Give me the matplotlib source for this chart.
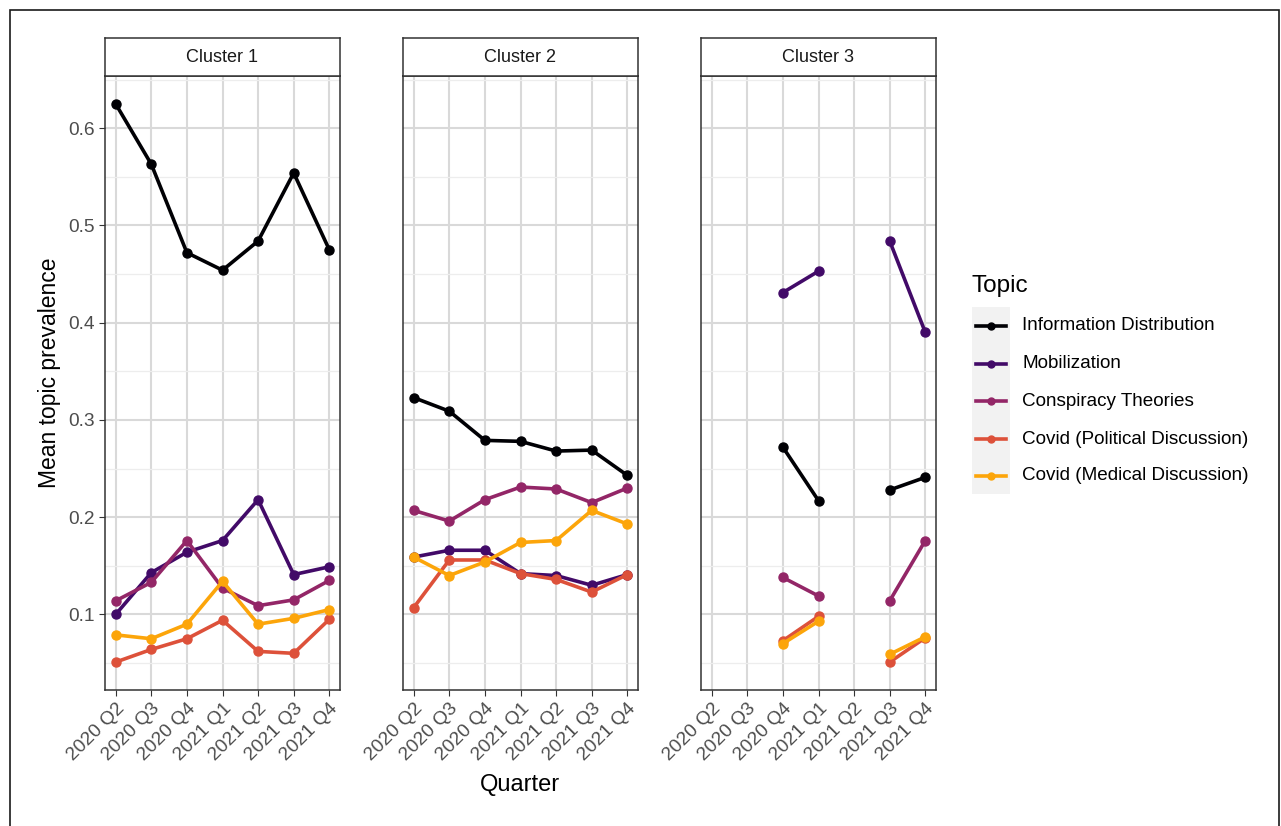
import numpy as np
import matplotlib
matplotlib.use('Agg')
import matplotlib.pyplot as plt
from matplotlib.lines import Line2D
from matplotlib.patches import Rectangle

plt.rcParams['font.family'] = ['Liberation Sans', 'DejaVu Sans']

quarters = ['2020 Q2', '2020 Q3', '2020 Q4', '2021 Q1', '2021 Q2', '2021 Q3', '2021 Q4']
topics = ['Information Distribution', 'Mobilization', 'Conspiracy Theories',
          'Covid (Political Discussion)', 'Covid (Medical Discussion)']
# inferno palette, first five of six
colors = ['#000004', '#420A68', '#932667', '#DD513A', '#FCA50A']
nan = np.nan

cluster1 = {
    'Information Distribution':     [0.625, 0.563, 0.472, 0.454, 0.484, 0.554, 0.475],
    'Mobilization':                 [0.100, 0.143, 0.164, 0.176, 0.218, 0.141, 0.149],
    'Conspiracy Theories':          [0.114, 0.133, 0.176, 0.127, 0.109, 0.115, 0.135],
    'Covid (Political Discussion)': [0.051, 0.064, 0.075, 0.094, 0.062, 0.060, 0.095],
    'Covid (Medical Discussion)':   [0.079, 0.075, 0.090, 0.134, 0.090, 0.096, 0.105],
}
cluster2 = {
    'Information Distribution':     [0.323, 0.309, 0.279, 0.278, 0.268, 0.269, 0.243],
    'Mobilization':                 [0.159, 0.166, 0.166, 0.142, 0.140, 0.130, 0.141],
    'Conspiracy Theories':          [0.207, 0.196, 0.218, 0.231, 0.229, 0.215, 0.230],
    'Covid (Political Discussion)': [0.107, 0.156, 0.156, 0.142, 0.136, 0.123, 0.141],
    'Covid (Medical Discussion)':   [0.159, 0.140, 0.154, 0.174, 0.176, 0.207, 0.193],
}
cluster3 = {
    'Information Distribution':     [nan, nan, 0.272, 0.217, nan, 0.228, 0.241],
    'Mobilization':                 [nan, nan, 0.431, 0.453, nan, 0.484, 0.390],
    'Conspiracy Theories':          [nan, nan, 0.138, 0.119, nan, 0.114, 0.176],
    'Covid (Political Discussion)': [nan, nan, 0.073, 0.098, nan, 0.051, 0.076],
    'Covid (Medical Discussion)':   [nan, nan, 0.070, 0.093, nan, 0.059, 0.077],
}
clusters = [('Cluster 1', cluster1), ('Cluster 2', cluster2), ('Cluster 3', cluster3)]

W, H = 1281, 826
fig = plt.figure(figsize=(W / 100, H / 100), dpi=100)


def box(x0, y0, x1, y1):
    # pixel box (top-left origin) -> figure fraction rect
    return [x0 / W, 1 - y1 / H, (x1 - x0) / W, (y1 - y0) / H]


# shared scales with 5% padding like ggplot
allv = np.concatenate([np.array(v, dtype=float) for _, c in clusters for v in c.values()])
lo, hi = np.nanmin(allv), np.nanmax(allv)
pad = 0.05 * (hi - lo)
ylim = (lo - pad, hi + pad)
x = np.arange(len(quarters))
xlim = (-0.05 * (len(quarters) - 1), (len(quarters) - 1) * 1.05)

edge = '#333333'
lw, ms = 2.6, 6.5
lefts = [105, 403, 701]
for i, (name, data) in enumerate(clusters):
    x0 = lefts[i]
    ax = fig.add_axes(box(x0, 76, x0 + 235, 690))
    ax.set_xlim(xlim)
    ax.set_ylim(ylim)
    ax.set_yticks([0.1, 0.2, 0.3, 0.4, 0.5, 0.6])
    ax.set_yticks(np.arange(0.05, 0.66, 0.1), minor=True)
    ax.set_xticks(x)
    ax.set_xticklabels(quarters, rotation=45, ha='right', va='top', rotation_mode='anchor')
    ax.grid(which='major', axis='both', color='#D9D9D9', lw=1.5)
    ax.grid(which='minor', axis='y', color='#EDEDED', lw=0.9)
    ax.set_axisbelow(True)
    ax.tick_params(which='major', length=4.5, width=0.8, color=edge,
                   labelcolor='#4D4D4D', labelsize=13.8, pad=3)
    ax.tick_params(which='minor', length=0)
    if i > 0:
        ax.tick_params(axis='y', left=False, labelleft=False)
    for s in ax.spines.values():
        s.set_color(edge)
        s.set_linewidth(1.1)

    for t, c in zip(topics, colors):
        ax.plot(x, data[t], color=c, lw=lw, marker='o', ms=ms, zorder=3)

    # facet strip
    st = fig.add_axes(box(x0, 38, x0 + 235, 76))
    st.set_xticks([])
    st.set_yticks([])
    st.set_facecolor('white')
    for s in st.spines.values():
        s.set_color(edge)
        s.set_linewidth(1.1)
    st.text(0.5, 0.5, name, ha='center', va='center', fontsize=13, color='#1A1A1A')

fig.text(50 / W, 1 - 373 / H, 'Mean topic prevalence', rotation=90,
         ha='center', va='center', fontsize=16.5)
fig.text(520 / W, 1 - 785 / H, 'Quarter', ha='center', va='center', fontsize=17)

# legend
fig.text(972 / W, 1 - 286 / H, 'Topic', ha='left', va='center', fontsize=17.5)
fig.patches.append(Rectangle((972 / W, 1 - 494 / H), 38 / W, 187 / H,
                             transform=fig.transFigure, facecolor='#F2F2F2',
                             edgecolor='none'))
key_y = [326, 364, 401, 439, 476]
for t, c, yy in zip(topics, colors, key_y):
    fig.lines.append(Line2D([976 / W, 1006 / W], [1 - yy / H] * 2, transform=fig.transFigure,
                            color=c, lw=lw))
    fig.lines.append(Line2D([991 / W], [1 - yy / H], transform=fig.transFigure,
                            color=c, marker='o', ms=5, lw=0))
    fig.text(1022 / W, 1 - yy / H, t, ha='left', va='center', fontsize=13.6)

# outer frame
fig.patches.append(Rectangle((9.5 / W, -0.05), 1269 / W, 1.05 - 9.5 / H,
                             transform=fig.transFigure, facecolor='none',
                             edgecolor='#1A1A1A', lw=1.2))

fig.savefig('out.png', dpi=100)
